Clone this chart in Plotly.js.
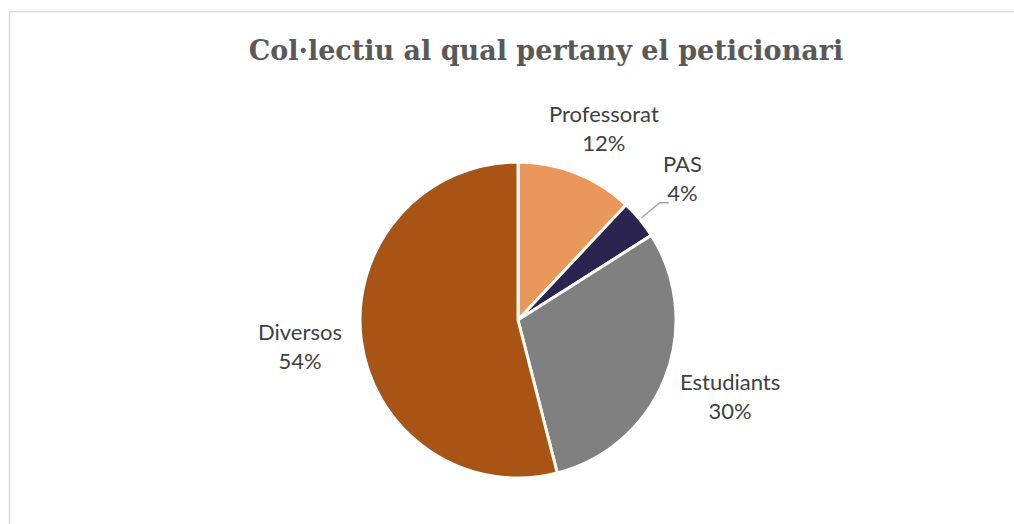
<!DOCTYPE html>
<html><head><meta charset="utf-8">
<script src="https://cdn.plot.ly/plotly-3.0.1.min.js"></script>
<style>html,body{margin:0;padding:0;background:#fff}#chart{width:1014px;height:524px}</style>
</head><body><div id="chart"></div>
<script>
const categories = ['Professorat', 'PAS', 'Estudiants', 'Diversos'];
const values = [12, 4, 30, 54];
const colors = ['#E9975A', '#2C2450', '#808080', '#A85415'];
const titleText = 'Col·lectiu al qual pertany el peticionari';

const W = 1014, H = 524;
const cx = 518, cy = 320, R = 158;
const fs = 22, labFont = 'Lato';
const ctx = document.createElement('canvas').getContext('2d');
ctx.font = fs + 'px ' + labFont;
const total = values.reduce((a, b) => a + b, 0);
let cum = 0;
const annotations = [], shapes = [];
const px = x => x / W, py = y => 1 - y / H;

values.forEach((v, i) => {
  const pct = Math.round(v / total * 100) + '%';
  const mid = (cum + v / 2) / total * 2 * Math.PI; cum += v;
  const ux = Math.sin(mid), uy = -Math.cos(mid);
  const small = v / total < 0.05;
  const g = small ? 36 : 20;
  const w = Math.max(ctx.measureText(categories[i]).width, ctx.measureText(pct).width);
  const h = 2 * 1.3 * fs;
  const bx = cx + (R + g) * ux + 0.5 * ux * w;
  const by = cy + (R + g) * uy + 0.5 * uy * h;
  annotations.push({
    text: categories[i] + '<br>' + pct, x: px(bx), y: py(by),
    xref: 'paper', yref: 'paper', xanchor: 'center', yanchor: 'middle',
    showarrow: false, font: {family: labFont, size: fs, color: '#404040'}
  });
  if (small) {
    const x0 = cx + (R + 2) * ux, y0 = cy + (R + 2) * uy;
    const x1 = cx + (R + g - 10) * ux, y1 = cy + (R + g - 10) * uy;
    const x2 = x1 + 9;
    shapes.push({type: 'path', xref: 'paper', yref: 'paper',
      path: `M ${px(x0)} ${py(y0)} L ${px(x1)} ${py(y1)} L ${px(x2)} ${py(y1)}`,
      line: {color: '#A6A6A6', width: 1.5}});
  }
});

shapes.push({type: 'rect', xref: 'paper', yref: 'paper', x0: px(9.5), x1: 1.1, y0: -0.1, y1: py(11.5),
  line: {color: '#D9D9D9', width: 1.5}, fillcolor: 'rgba(0,0,0,0)'});

const data = [{
  type: 'pie', labels: categories, values: values, sort: false, direction: 'clockwise', rotation: 0,
  marker: {colors: colors, line: {color: '#FFFFFF', width: 3}},
  textinfo: 'none', hoverinfo: 'label+percent', showlegend: false,
  domain: {x: [px(cx - R), px(cx + R)], y: [py(cy + R), py(cy - R)]}
}];

const layout = {
  width: W, height: H, margin: {l: 0, r: 0, t: 0, b: 0},
  paper_bgcolor: '#FFFFFF', plot_bgcolor: '#FFFFFF',
  title: {text: '<b>' + titleText + '</b>', x: px(546), xanchor: 'center', y: py(51), yanchor: 'middle',
    xref: 'paper', yref: 'paper', font: {family: 'DejaVu Serif', size: 27, color: '#595959'}},
  annotations: annotations, shapes: shapes
};
Plotly.newPlot('chart', data, layout, {displayModeBar: false, staticPlot: true});
</script></body></html>
